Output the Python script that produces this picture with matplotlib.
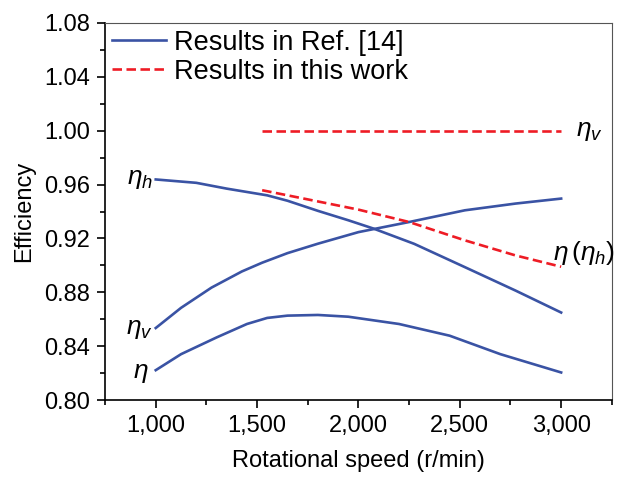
import matplotlib
matplotlib.use("Agg")
import matplotlib.pyplot as plt
from matplotlib.ticker import MultipleLocator, FuncFormatter

plt.rcParams.update({
    "font.family": ["Liberation Sans", "DejaVu Sans"],
    "font.size": 17,
    "mathtext.fontset": "custom",
    "mathtext.rm": "Liberation Sans",
    "mathtext.it": "Liberation Sans:italic",
    "mathtext.bf": "Liberation Sans:bold",
})

# Results in Ref. [14] (solid blue)
speed_eta_h = [1000, 1200, 1350, 1550, 1650, 1800, 1950, 2075, 2275, 2525, 2775, 3000]
eta_h_ref = [0.9638, 0.9613, 0.9570, 0.9520, 0.9480, 0.9405, 0.9335, 0.9273,
             0.9160, 0.8987, 0.8813, 0.8650]

speed_eta_v = [1000, 1125, 1275, 1425, 1525, 1650, 1800, 2000, 2250, 2525, 2775, 3000]
eta_v_ref = [0.8535, 0.8685, 0.8835, 0.8955, 0.9020, 0.9091, 0.9161, 0.9247,
             0.9322, 0.9409, 0.9459, 0.9496]

speed_eta = [1000, 1125, 1300, 1450, 1550, 1650, 1800, 1950, 2200, 2450, 2700, 3000]
eta_ref = [0.8222, 0.8341, 0.8465, 0.8565, 0.8610, 0.8627, 0.8632, 0.8619,
           0.8565, 0.8478, 0.8341, 0.8205]

# Results in this work (dashed red)
speed_work = [1525, 1750, 2000, 2250, 2525, 2775, 3000]
eta_v_work = [1.000, 1.000, 1.000, 1.000, 1.000, 1.000, 1.000]
eta_work = [0.9558, 0.9490, 0.9414, 0.9322, 0.9186, 0.9074, 0.8990]

blue = "#3a53a4"
red = "#ee1c25"
dash = (0, (3.6, 1.7))

fig = plt.figure(figsize=(6.18, 4.78), dpi=100)
ax = fig.add_axes([0.170, 0.163, 0.820, 0.789])

ax.plot(speed_eta_h, eta_h_ref, color=blue, lw=1.9, label="Results in Ref. [14]")
ax.plot(speed_eta_v, eta_v_ref, color=blue, lw=1.9)
ax.plot(speed_eta, eta_ref, color=blue, lw=1.9)
ax.plot(speed_work, eta_v_work, color=red, lw=1.9, ls=dash,
        label="Results in this work")
ax.plot(speed_work, eta_work, color=red, lw=1.9, ls=dash)

# curve annotations
ax.text(985, eta_h_ref[0], r"$\eta_h$", ha="right", va="center", fontsize=19)
ax.text(985, eta_v_ref[0] - 0.001, r"$\eta_v$", ha="right", va="center", fontsize=19)
ax.text(965, eta_ref[0] - 0.002, r"$\eta$", ha="right", va="center", fontsize=19)
ax.text(3075, 1.000, r"$\eta_v$", ha="left", va="center", fontsize=19)
ax.text(2960, 0.909, r"$\eta\,(\eta_h)$", ha="left", va="center", fontsize=19)

ax.set_xlim(750, 3250)
ax.set_ylim(0.80, 1.08)
ax.xaxis.set_major_locator(MultipleLocator(500))
ax.xaxis.set_minor_locator(MultipleLocator(250))
ax.yaxis.set_major_locator(MultipleLocator(0.04))
ax.yaxis.set_minor_locator(MultipleLocator(0.02))
ax.xaxis.set_major_formatter(FuncFormatter(lambda v, p: f"{int(v):,}"))
ax.yaxis.set_major_formatter(FuncFormatter(lambda v, p: f"{v:.2f}"))

ax.tick_params(axis="both", which="major", direction="out", length=6, width=1.2,
               top=False, right=False, pad=5)
ax.tick_params(axis="both", which="minor", direction="out", length=3.5, width=1.2,
               top=False, right=False)
ax.spines["left"].set_linewidth(1.2)
ax.spines["bottom"].set_linewidth(1.2)
ax.spines["top"].set_linewidth(0.8)
ax.spines["right"].set_linewidth(0.8)
ax.spines["top"].set_color("#555555")
ax.spines["right"].set_color("#555555")

ax.set_xlabel("Rotational speed (r/min)", labelpad=9)
ax.set_ylabel("Efficiency", labelpad=6)

ax.legend(loc="upper left", frameon=False, handlelength=2.0, handletextpad=0.28,
          borderaxespad=0.0, borderpad=0.25, labelspacing=0.12, fontsize=19.5)

fig.savefig("out.png", dpi=100)
